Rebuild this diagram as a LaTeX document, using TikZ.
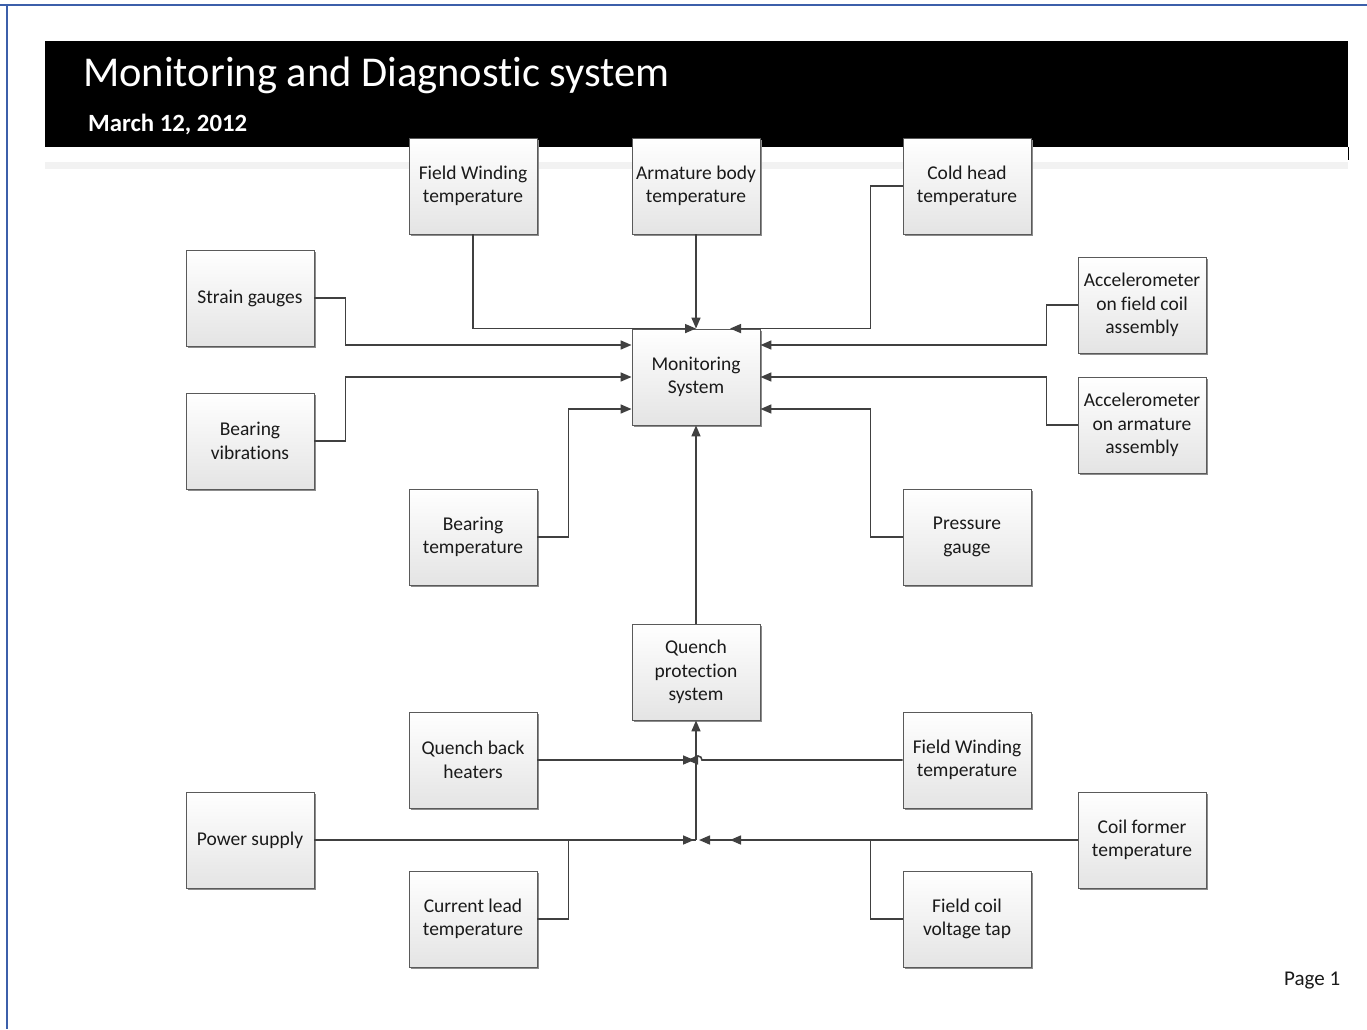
\documentclass[tikz,border=0pt]{standalone}
\usepackage{fontspec}
\setmainfont{Carlito}[Ligatures=NoCommon]
\usetikzlibrary{arrows.meta,shadows,calc}
\definecolor{framec}{HTML}{3C5FAA}
\definecolor{boxborder}{HTML}{5A5A5A}
\definecolor{boxbot}{HTML}{E4E4E4}
\definecolor{linec}{HTML}{404040}
\definecolor{bandc}{HTML}{F2F2F2}
\definecolor{txtc}{HTML}{1A1A1A}
\tikzset{
  box/.style={draw=boxborder, line width=0.9pt, minimum width=128pt, minimum height=96pt,
    inner sep=0pt, align=center, top color=white, bottom color=boxbot,
    font=\fontsize{19.5}{23.5}\selectfont, text=txtc,
    general shadow={shadow xshift=2.2pt, shadow yshift=-2.2pt, fill=black!45}},
  conn/.style={draw=linec, line width=1.6pt},
  arr/.style={conn, -{Triangle[length=11pt,width=9pt]}},
}
\begin{document}
\begin{tikzpicture}[x=1pt,y=-1pt]
\useasboundingbox[fill=white] (0,0) rectangle (1367,1029);
% frame
\draw[framec, line width=2.5pt] (0,5) -- (1367,5);
\draw[framec, line width=2pt] (7,5) -- (7,1029);
% header
\fill[black] (45,41) rectangle (1348,147);
\draw[black, line width=1pt] (1348,147) -- (1348,160);
\fill[bandc] (45,162) rectangle (1348,169);
\node[anchor=base west, text=white, inner sep=0pt, font=\fontsize{42.5}{46}\selectfont] (title) at (83,86) {Monitoring and Diagnostic system};
\node[anchor=base west, text=white, inner sep=0pt, font=\fontsize{24.8}{28}\selectfont\bfseries] (date) at (88,131) {March 12, 2012};
\node[anchor=base west, inner sep=0pt, font=\fontsize{21}{24}\selectfont, text=txtc] (page) at (1284,985) {Page 1};
% boxes
\node[box] (fwt) at (473,186) {Field Winding\\temperature};
\node[box] (abt) at (696,186) {Armature body\\temperature};
\node[box] (cht) at (967,186) {Cold head\\temperature};
\node[box] (sg) at (250,298) {Strain gauges};
\node[box] (afc) at (1142,305) {Accelerometer\\on field coil\\assembly};
\node[box] (mon) at (696,377) {Monitoring\\System};
\node[box] (bv) at (250,441) {Bearing\\vibrations};
\node[box] (aaa) at (1142,425) {Accelerometer\\on armature\\assembly};
\node[box] (bt) at (473,537) {Bearing\\temperature};
\node[box] (pg) at (967,537) {Pressure\\gauge};
\node[box] (qps) at (696,672) {Quench\\protection\\system};
\node[box] (qbh) at (473,760) {Quench back\\heaters};
\node[box] (fwb) at (967,760) {Field Winding\\temperature};
\node[box] (ps) at (250,840) {Power supply};
\node[box] (cf) at (1142,840) {Coil former\\temperature};
\node[box] (cl) at (473,919) {Current lead\\temperature};
\node[box] (fcv) at (967,919) {Field coil\\voltage tap};
% junction points
\coordinate (mtr) at ([xshift=34pt]mon.north);
\coordinate (j1) at (696,760);
\coordinate (j1l) at (694,760);
\coordinate (j1r) at (702,760);
\coordinate (j2) at (696,840);
\coordinate (j2l) at (694,840);
\coordinate (j2r) at (699,840);
\coordinate (j2rr) at (730,840);
% upper connectors
\draw[arr] (fwt.south) |- (mon.north);
\draw[arr] (abt.south) -- (mon.north);
\draw[arr] (cht.west) -- ++(-32,0) |- (mtr);
\draw[arr] (sg.east) -- ++(31,0) |- ([yshift=32pt]mon.west);
\draw[arr] (bv.east) -- ++(31,0) |- (mon.west);
\draw[arr] (bt.east) -- ++(31,0) |- ([yshift=-32pt]mon.west);
\draw[arr] (afc.west) -- ++(-31,0) |- ([yshift=32pt]mon.east);
\draw[arr] (aaa.west) -- ++(-31,0) |- (mon.east);
\draw[arr] (pg.west) -- ++(-32,0) |- ([yshift=-32pt]mon.east);
\draw[arr] (qps.north) -- (mon.south);
% lower connectors
\draw[arr] (j2) -- (qps.south);
\draw[arr] (qbh.east) -- (j1l);
\draw[arr] (fwb.west) -- (j1r) arc[start angle=0, end angle=180, radius=4pt] -- (687,760);
\draw[arr] (ps.east) -- (j2l);
\draw[conn] (cl.east) -- ++(31,0) |- (j2);
\draw[arr] (cf.west) -- (j2r);
\draw[arr] (fcv.west) -- ++(-32,0) |- (j2rr);
\end{tikzpicture}
\end{document}
